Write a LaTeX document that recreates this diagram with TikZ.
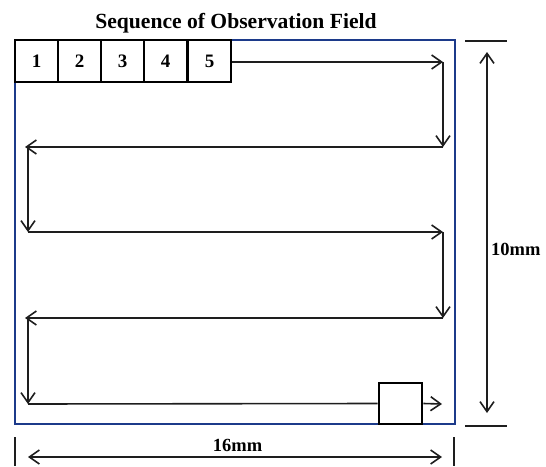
\documentclass[tikz,border=0pt]{standalone}
\usepackage{fontspec}
\setmainfont{Liberation Serif}
\usetikzlibrary{arrows.meta}
\definecolor{fieldblue}{RGB}{28,58,138}
\definecolor{ink}{RGB}{30,30,30}
\begin{document}
\begin{tikzpicture}[x=1pt,y=-1pt,
  >={Straight Barb[length=10pt,width=14pt,line width=1.6pt]},
  flow/.style={line width=1.6pt, draw=ink, ->},
  plain/.style={line width=1.6pt, draw=ink},
  dimline/.style={line width=1.6pt, draw=ink, <->},
  cell/.style={draw=black, line width=2.8pt, minimum width=43pt, minimum height=42pt,
    inner sep=0pt, font=\bfseries\fontsize{19}{19}\selectfont},
  label/.style={inner sep=0pt, font=\bfseries\fontsize{18.5}{18.5}\selectfont}]
\useasboundingbox (0,0) rectangle (546,466);

% title
\node[inner sep=0pt, anchor=base, font=\bfseries\fontsize{21.6}{21.6}\selectfont]
  (title) at (236,28) {Sequence of Observation Field};

% observation field outline
\draw[fieldblue, line width=2.4pt] (15,40) rectangle (455,424);

% first five fields
\node[cell] (c1) at (36.5,61) {1};
\node[cell] (c2) at (79.5,61) {2};
\node[cell] (c3) at (122.5,61) {3};
\node[cell] (c4) at (165.5,61) {4};
\node[cell] (c5) at (209.5,61) {5};

% last field
\node[draw=black, line width=2.8pt, minimum width=43pt, minimum height=41pt, inner sep=0pt]
  (last) at (400.5,403.5) {};

% scanning path
\coordinate (r1) at (443,62);
\coordinate (r1b) at (443,147);
\coordinate (l1) at (25,147);
\coordinate (l1s) at (28,147);
\coordinate (l1b) at (28,232);
\coordinate (r2) at (443,232);
\coordinate (r2b) at (443,318);
\coordinate (l2) at (25,318);
\coordinate (l2s) at (28,318);
\coordinate (l2b) at (28,404);
\coordinate (endtip) at (442,404);

\draw[flow] (c5.east |- r1) -- (r1);
\draw[flow] (r1) -- (r1b);
\draw[flow] (r1b) -- (l1);
\draw[flow] (l1s) -- (l1b);
\draw[flow] (l1b) -- (r2);
\draw[flow] (r2) -- (r2b);
\draw[flow] (r2b) -- (l2);
\draw[flow] (l2s) -- (l2b);
\draw[plain] (l2b) -- (last.west);
\draw[flow] (last.east) -- (endtip);

% height dimension
\coordinate (ht1) at (465,41);
\coordinate (ht2) at (507,41);
\coordinate (hb1) at (465,426);
\coordinate (hb2) at (507,426);
\coordinate (hv1) at (487,52);
\coordinate (hv2) at (487,413);
\draw[plain] (ht1) -- (ht2);
\draw[plain] (hb1) -- (hb2);
\draw[dimline] (hv1) -- (hv2);
\node[label, anchor=base west] (hlabel) at (491,255) {10mm};

% width dimension
\coordinate (wl1) at (15,437);
\coordinate (wl2) at (15,466);
\coordinate (wr1) at (454,437);
\coordinate (wr2) at (454,466);
\coordinate (wa1) at (28,457);
\coordinate (wa2) at (442,457);
\draw[plain] (wl1) -- (wl2);
\draw[plain] (wr1) -- (wr2);
\draw[dimline] (wa1) -- (wa2);
\node[label, anchor=base] (wlabel) at (237.5,451) {16mm};
\end{tikzpicture}
\end{document}
